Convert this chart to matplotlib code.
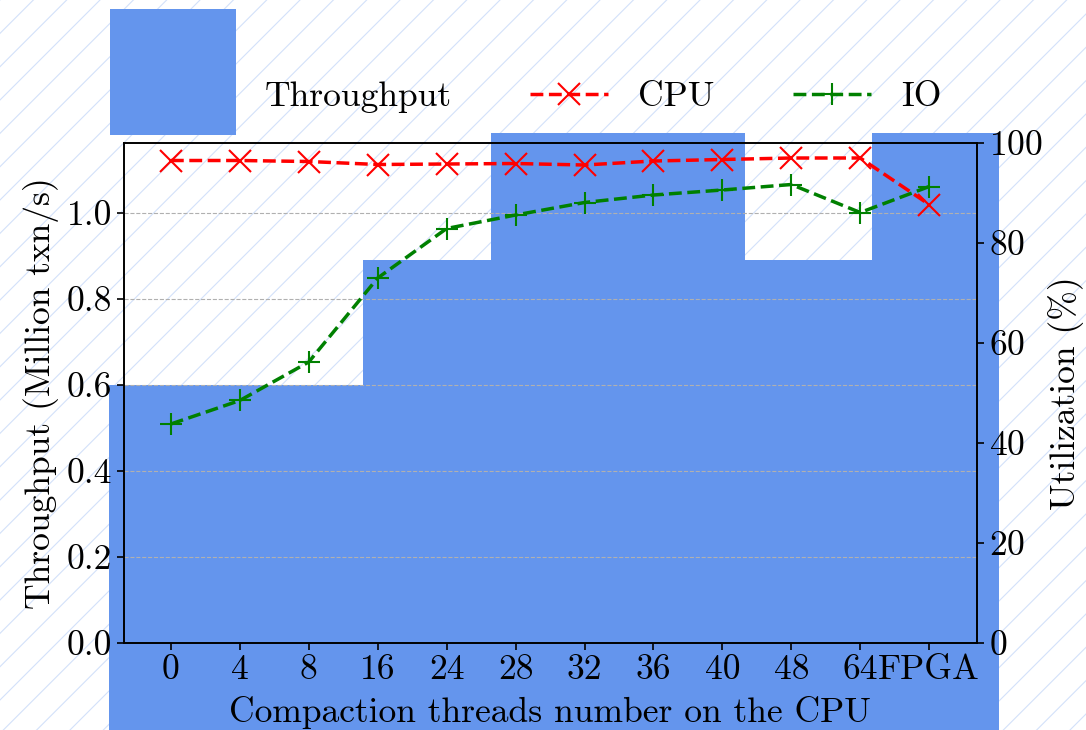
import matplotlib
matplotlib.use("Agg")
import matplotlib.pyplot as plt
from matplotlib.legend_handler import HandlerPatch
from matplotlib.patches import Rectangle
import numpy as np

plt.rcParams['font.family'] = 'cmr10'
plt.rcParams['mathtext.fontset'] = 'cm'
plt.rcParams['axes.unicode_minus'] = False
plt.rcParams['axes.formatter.use_mathtext'] = True
plt.rcParams['font.size'] = 25.6
plt.rcParams['hatch.linewidth'] = 0.8

# данные
threads = ['0', '4', '8', '16', '24', '28', '32', '36', '40', '48', '64', 'FPGA']
cpu = [96.5, 96.5, 96.3, 95.7, 95.8, 95.9, 95.6, 96.4, 96.7, 97.0, 97.0, 87.7]
io = [43.8, 48.5, 56.2, 73.0, 82.9, 85.6, 88.1, 89.6, 90.6, 91.7, 86.1, 91.3]
tput = [0.60, 0.60, 0.89, 1.186, 1.186, 0.89, 1.186]

blue = 'cornflowerblue'

fig = plt.figure(figsize=(10.86, 7.3), dpi=100)
fig.patch.set_hatch('/')
fig.patch.set_edgecolor('#d3e1fa')
fig.patch.set_linewidth(0)

ax = fig.add_axes([0.1142, 0.1192, 0.7852, 0.6849])
ax.patch.set_visible(False)
ax.set_zorder(1)

# столбцы пропускной способности (фон)
axb = fig.add_axes([0.1006, 0.1192, 0.8192, 0.6849], sharey=ax)
axb.set_zorder(0)
axb.axis('off')
xb = np.arange(len(tput))
bars = axb.bar(xb, np.array(tput) + 0.3, bottom=-0.3, width=1.0, color=blue,
               clip_on=False, label='Throughput')
axb.set_xlim(-0.5, len(tput) - 0.5)

x = np.arange(len(threads))
ax.set_xlim(-0.68, 11.69)
ax.set_ylim(0, 1.163)
ax.set_yticks(np.arange(0, 1.01, 0.2))
ax.set_yticklabels([f'{v:.1f}' for v in np.arange(0, 1.01, 0.2)])
ax.set_xticks(x)
ax.set_xticklabels(threads)
ax.grid(axis='y', linestyle='--', color='#b0b0b0', linewidth=0.8)
ax.set_xlabel('Compaction threads number on the CPU', labelpad=7)
ax.set_ylabel('Throughput (Million txn/s)', labelpad=6)

ax2 = ax.twinx()
ax2.set_zorder(2)
l1, = ax2.plot(x, cpu, color='red', linestyle='--', marker='x', markersize=16,
               markeredgewidth=1.5, linewidth=2.5, label='CPU')
l2, = ax2.plot(x, io, color='green', linestyle='--', marker='+', markersize=16,
               markeredgewidth=1.5, linewidth=2.5, label='IO')
ax2.set_ylim(0, 100)
ax2.set_yticks(range(0, 101, 20))
ax2.set_ylabel('Utilization (%)')

for a in (ax, ax2):
    for s in a.spines.values():
        s.set_linewidth(1.2)
    a.tick_params(width=1.2, length=5)


def big_square(legend, orig_handle, xdescent, ydescent, width, height, fontsize):
    side = 3.55 * fontsize
    return Rectangle((width - xdescent - side + 1.5, -ydescent + height / 2 - 0.328 * side), side, side)


fig.legend([bars.patches[0], l1, l2], ['Throughput', 'CPU', 'IO'],
           handler_map={Rectangle: HandlerPatch(patch_func=big_square)},
           loc='center', bbox_to_anchor=(0.5055, 0.8671), ncol=3, frameon=False,
           handlelength=2.2, columnspacing=2.2, handletextpad=0.85)

fig.savefig('out.png', dpi=100)
